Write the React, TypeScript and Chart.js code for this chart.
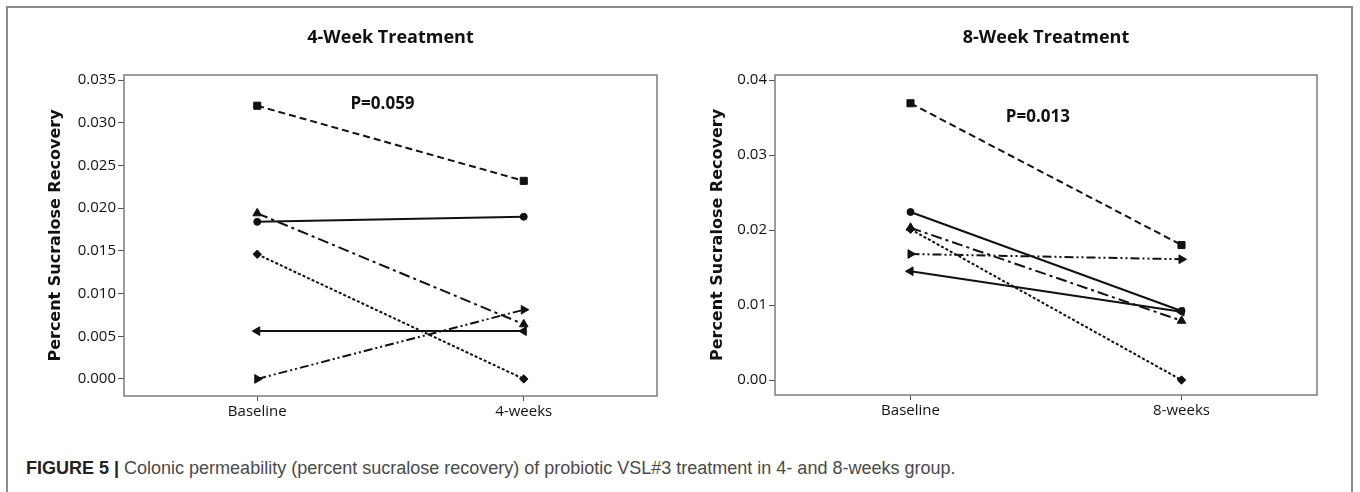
import React, { useEffect, useRef } from "react";
import { Chart, registerables } from "chart.js";

Chart.register(...registerables);

// ---------- data ----------
const categories4 = ["Baseline", "4-weeks"];
const categories8 = ["Baseline", "8-weeks"];

const w4Square = [0.032, 0.0232];
const w4Circle = [0.0184, 0.019];
const w4TriUp = [0.0194, 0.0064];
const w4Diamond = [0.0146, 0.0];
const w4TriLeft = [0.0056, 0.0056];
const w4TriRight = [0.0, 0.0081];

const w8Square = [0.0369, 0.018];
const w8Circle = [0.0224, 0.0092];
const w8TriUp = [0.0203, 0.0079];
const w8Diamond = [0.0201, 0.0];
const w8TriRight = [0.0168, 0.0161];
const w8TriLeft = [0.0145, 0.0091];

const yTicks4 = [0, 0.005, 0.01, 0.015, 0.02, 0.025, 0.03, 0.035];
const yTicks8 = [0, 0.01, 0.02, 0.03, 0.04];

const title4 = "4-Week Treatment";
const title8 = "8-Week Treatment";
const yTitle = "Percent Sucralose Recovery";
const pText4 = "P=0.059";
const pText8 = "P=0.013";

// ---------- styles ----------
const INK = "#111";
const styleSquare = { pointStyle: "rect", pointRadius: 5, borderDash: [7, 4], rotation: 0 };
const styleCircle = { pointStyle: "circle", pointRadius: 3.5, borderDash: [], rotation: 0 };
const styleTriUp = { pointStyle: "triangle", pointRadius: 5, borderDash: [11, 4, 3, 4], rotation: 0 };
const styleDiamond = { pointStyle: "rectRot", pointRadius: 4.2, borderDash: [3, 2], rotation: 0 };
const styleTriLeft = { pointStyle: "triangle", pointRadius: 5, borderDash: [], rotation: -90 };
const styleTriRight = { pointStyle: "triangle", pointRadius: 5, borderDash: [9, 3, 2, 3, 2, 3], rotation: 90 };

function makeDataset(data: number[], st: any) {
  return {
    data,
    borderColor: INK,
    backgroundColor: INK,
    borderWidth: 2,
    borderDash: st.borderDash,
    pointStyle: st.pointStyle,
    pointRadius: st.pointRadius,
    pointRotation: st.rotation,
    pointBackgroundColor: INK,
    pointBorderColor: INK,
    pointBorderWidth: 1,
    fill: false,
    tension: 0,
    clip: false,
  };
}

const framePlugin = {
  id: "frameAndNote",
  afterDraw(chart: any, _args: any, opts: any) {
    const { ctx, chartArea: a } = chart;
    ctx.save();
    ctx.strokeStyle = "#7c7c7c";
    ctx.lineWidth = 1.5;
    ctx.strokeRect(a.left, a.top, a.right - a.left, a.bottom - a.top);
    if (opts && opts.text) {
      const x = chart.scales.x.getPixelForValue(opts.x);
      const y = chart.scales.y.getPixelForValue(opts.y);
      ctx.fillStyle = INK;
      ctx.font = "bold 17px 'Open Sans'";
      ctx.textAlign = "center";
      ctx.textBaseline = "middle";
      ctx.fillText(opts.text, x, y);
    }
    ctx.restore();
  },
};

type PanelProps = {
  left: number;
  categories: string[];
  series: { data: number[]; st: any }[];
  yTicks: number[];
  decimals: number;
  yMin: number;
  yMax: number;
  title: string;
  note: { text: string; x: number; y: number };
  padLeft: number;
  padRight: number;
  yAxisWidth: number;
  yTitlePad: number;
  xAxisHeight: number;
};

function Panel(p: PanelProps) {
  const ref = useRef<HTMLCanvasElement | null>(null);
  useEffect(() => {
    if (!ref.current) return;
    const chart = new Chart(ref.current, {
      type: "line",
      data: {
        labels: p.categories,
        datasets: p.series.map((s) => makeDataset(s.data, s.st)) as any,
      },
      options: {
        responsive: false,
        animation: false,
        devicePixelRatio: 1,
        layout: { padding: { left: p.padLeft, right: p.padRight, top: 0, bottom: 0 } },
        plugins: {
          legend: { display: false },
          tooltip: { enabled: false },
          title: {
            display: true,
            text: p.title,
            fullSize: false,
            color: INK,
            font: { family: "'Open Sans'", size: 18, weight: "bold" },
            padding: { top: 27, bottom: 26.4 },
          },
          frameAndNote: p.note,
        } as any,
        scales: {
          x: {
            type: "category",
            offset: true,
            border: { display: false },
            grid: { display: true, drawOnChartArea: false, drawTicks: true, tickLength: 5, color: "#555" },
            ticks: { color: "#111", font: { family: "'Open Sans'", size: 15 }, padding: 2 },
            afterFit: (s: any) => {
              s.height = p.xAxisHeight;
            },
          },
          y: {
            type: "linear",
            min: p.yMin,
            max: p.yMax,
            border: { display: false },
            grid: { display: true, drawOnChartArea: false, drawTicks: true, tickLength: 6, color: "#555" },
            ticks: {
              color: "#111",
              font: { family: "'Open Sans'", size: 15 },
              padding: 2,
              includeBounds: false,
              callback: (v: any) => Number(v).toFixed(p.decimals),
            },
            afterBuildTicks: (s: any) => {
              s.ticks = p.yTicks.map((v) => ({ value: v }));
            },
            title: {
              display: true,
              text: yTitle,
              color: INK,
              font: { family: "'DejaVu Sans'", size: 16, weight: "bold" },
              padding: { top: p.yTitlePad, bottom: 0 },
            },
            afterFit: (s: any) => {
              s.width = p.yAxisWidth;
            },
          },
        },
      } as any,
      plugins: [framePlugin as any],
    });
    return () => chart.destroy();
  }, []);
  return (
    <canvas
      ref={ref}
      width={680}
      height={440}
      style={{ position: "absolute", left: p.left, top: 0, width: 680, height: 440 }}
    />
  );
}

export default function App() {
  return (
    <div
      style={{
        position: "absolute",
        left: 0,
        top: 0,
        width: 1360,
        height: 492,
        background: "#fff",
        overflow: "hidden",
      }}
    >
      <div
        style={{
          position: "absolute",
          left: 6,
          top: 6,
          width: 1347,
          height: 600,
          border: "2px solid #8a8a8a",
          boxSizing: "border-box",
        }}
      />
      <Panel
        left={0}
        categories={categories4}
        series={[
          { data: w4Square, st: styleSquare },
          { data: w4Circle, st: styleCircle },
          { data: w4TriUp, st: styleTriUp },
          { data: w4Diamond, st: styleDiamond },
          { data: w4TriLeft, st: styleTriLeft },
          { data: w4TriRight, st: styleTriRight },
        ]}
        yTicks={yTicks4}
        decimals={3}
        yMin={-0.002}
        yMax={0.0356}
        title={title4}
        note={{ text: pText4, x: 0.47, y: 0.0322 }}
        padLeft={40}
        padRight={23}
        yAxisWidth={84}
        yTitlePad={6}
        xAxisHeight={44}
      />
      <Panel
        left={680}
        categories={categories8}
        series={[
          { data: w8Square, st: styleSquare },
          { data: w8Circle, st: styleCircle },
          { data: w8TriUp, st: styleTriUp },
          { data: w8Diamond, st: styleDiamond },
          { data: w8TriRight, st: styleTriRight },
          { data: w8TriLeft, st: styleTriLeft },
        ]}
        yTicks={yTicks8}
        decimals={2}
        yMin={-0.002}
        yMax={0.04067}
        title={title8}
        note={{ text: pText8, x: 0.47, y: 0.035 }}
        padLeft={20}
        padRight={43}
        yAxisWidth={75}
        yTitlePad={8}
        xAxisHeight={45}
      />
      <div
        style={{
          position: "absolute",
          left: 26,
          top: 456,
          fontFamily: "'Liberation Sans', Arial, sans-serif",
          fontSize: 18,
          lineHeight: "24px",
          color: "#4a4a4a",
          whiteSpace: "nowrap",
        }}
      >
        <span style={{ fontWeight: "bold", color: "#222" }}>FIGURE 5 |</span> Colonic permeability (percent
        sucralose recovery) of probiotic VSL#3 treatment in 4- and 8-weeks group.
      </div>
    </div>
  );
}
